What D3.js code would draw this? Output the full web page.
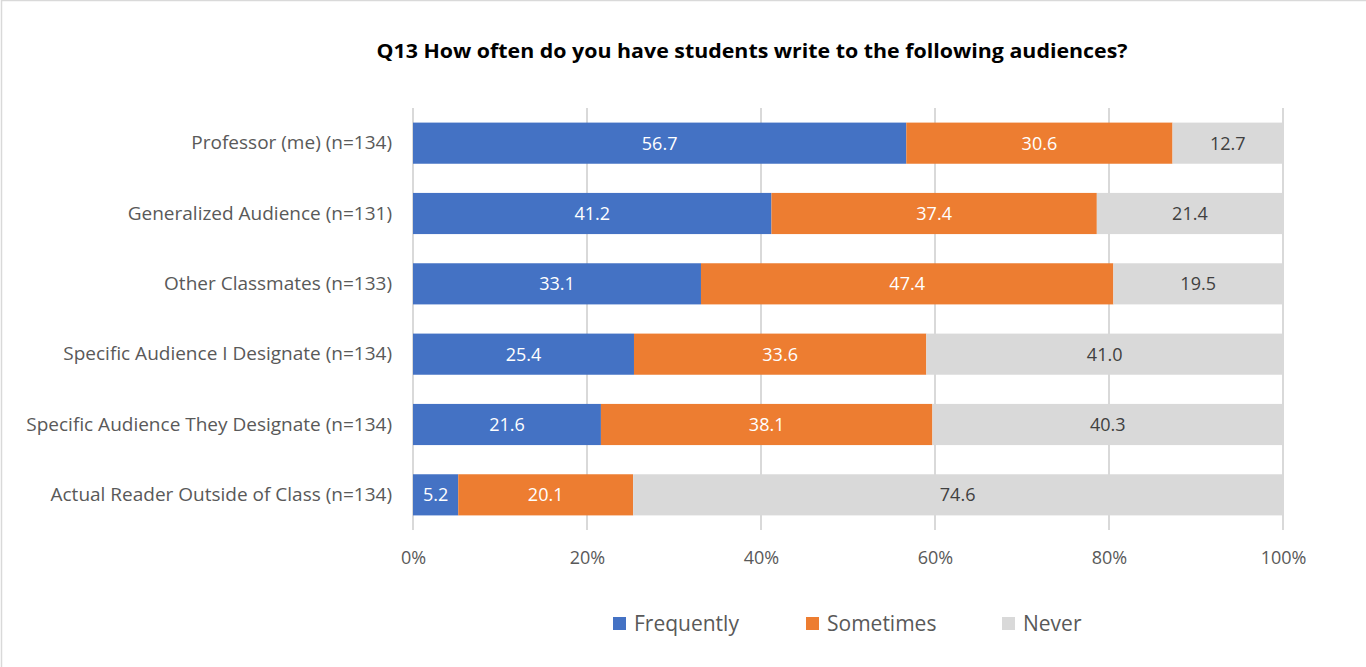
<!DOCTYPE html>
<html>
<head>
<meta charset="utf-8">
<script src="https://cdn.jsdelivr.net/npm/d3@7"></script>
<style>
  html, body { margin: 0; padding: 0; background: #fff; overflow: hidden; }
  svg { display: block; }
</style>
</head>
<body>
<svg id="chart" width="1366" height="667"></svg>
<script>
// Survey responses, percent of respondents per audience
const categories = [
  "Professor (me) (n=134)",
  "Generalized Audience (n=131)",
  "Other Classmates (n=133)",
  "Specific Audience I Designate (n=134)",
  "Specific Audience They Designate (n=134)",
  "Actual Reader Outside of Class (n=134)"
];
const seriesNames = ["Frequently", "Sometimes", "Never"];
const frequently = [56.7, 41.2, 33.1, 25.4, 21.6, 5.2];
const sometimes  = [30.6, 37.4, 47.4, 33.6, 38.1, 20.1];
const never      = [12.7, 21.4, 19.5, 41.0, 40.3, 74.6];
const tickValues = [0, 20, 40, 60, 80, 100];
const titleText = "Q13 How often do you have students write to the following audiences?";

const colors = ["#4472C4", "#ED7D31", "#D9D9D9"];
const labelColors = ["#ffffff", "#ffffff", "#404040"];

const rows = categories.map((c, i) => ({
  category: c,
  Frequently: frequently[i],
  Sometimes: sometimes[i],
  Never: never[i]
}));

const svg = d3.select("#chart");

// chart frame
svg.append("rect")
  .attr("x", 1.5).attr("y", 0.5)
  .attr("width", 1400).attr("height", 700)
  .attr("fill", "none").attr("stroke", "#d9d9d9").attr("stroke-width", 1.5);

const plotLeft = 413, plotRight = 1283, plotTop = 108, plotBottom = 530;

const x = d3.scaleLinear().domain([0, 100]).range([plotLeft, plotRight]);
const y = d3.scaleBand().domain(categories).range([plotTop, plotBottom]).paddingInner(0.415).paddingOuter(0.2075);

// title
svg.append("text")
  .attr("x", 752).attr("y", 58)
  .attr("text-anchor", "middle")
  .attr("font-family", "'Open Sans', sans-serif")
  .attr("font-weight", "bold")
  .attr("font-size", 19)
  .attr("fill", "#000")
  .attr("textLength", 751)
  .attr("lengthAdjust", "spacingAndGlyphs")
  .text(titleText);

// vertical gridlines
svg.append("g")
  .selectAll("line")
  .data(tickValues)
  .join("line")
  .attr("x1", d => x(d)).attr("x2", d => x(d))
  .attr("y1", plotTop).attr("y2", plotBottom)
  .attr("stroke", "#d9d9d9").attr("stroke-width", 2);

// stacked bars
const stack = d3.stack().keys(seriesNames)(rows);

const layers = svg.append("g")
  .selectAll("g")
  .data(stack)
  .join("g")
  .attr("fill", (d, i) => colors[i]);

layers.selectAll("rect")
  .data(d => d)
  .join("rect")
  .attr("x", d => x(d[0]))
  .attr("y", d => y(d.data.category))
  .attr("width", d => x(d[1]) - x(d[0]))
  .attr("height", y.bandwidth());

// value labels
stack.forEach((layer, i) => {
  svg.append("g")
    .selectAll("text")
    .data(layer)
    .join("text")
    .attr("x", d => (x(d[0]) + x(d[1])) / 2)
    .attr("y", d => y(d.data.category) + y.bandwidth() / 2)
    .attr("dy", "0.36em")
    .attr("text-anchor", "middle")
    .attr("font-family", "'Open Sans', sans-serif")
    .attr("font-size", 18)
    .attr("fill", labelColors[i])
    .text(d => d3.format(".1f")(d[1] - d[0]));
});

// category axis
const yAxis = svg.append("g")
  .attr("transform", `translate(${plotLeft},0)`)
  .call(d3.axisLeft(y).tickSize(0).tickPadding(21));
yAxis.select(".domain").remove();
yAxis.selectAll("text")
  .attr("font-family", "'Open Sans', sans-serif")
  .attr("font-size", 19)
  .attr("fill", "#595959");

// percentage axis
const xAxis = svg.append("g")
  .attr("transform", `translate(0,${plotBottom})`)
  .call(d3.axisBottom(x).tickValues(tickValues).tickSize(0).tickPadding(21).tickFormat(d => d + "%"));
xAxis.select(".domain").remove();
xAxis.selectAll("text")
  .attr("font-family", "'Open Sans', sans-serif")
  .attr("font-size", 18)
  .attr("fill", "#595959");

// legend
const legendX = [613, 806, 1002];
const legend = svg.append("g")
  .selectAll("g")
  .data(seriesNames)
  .join("g")
  .attr("transform", (d, i) => `translate(${legendX[i]},617)`);
legend.append("rect")
  .attr("width", 13).attr("height", 13)
  .attr("fill", (d, i) => colors[i]);
legend.append("text")
  .attr("x", 21).attr("y", 6.5)
  .attr("dy", "0.36em")
  .attr("font-family", "'Open Sans', sans-serif")
  .attr("font-size", 21)
  .attr("fill", "#595959")
  .text(d => d);
</script>
</body>
</html>
